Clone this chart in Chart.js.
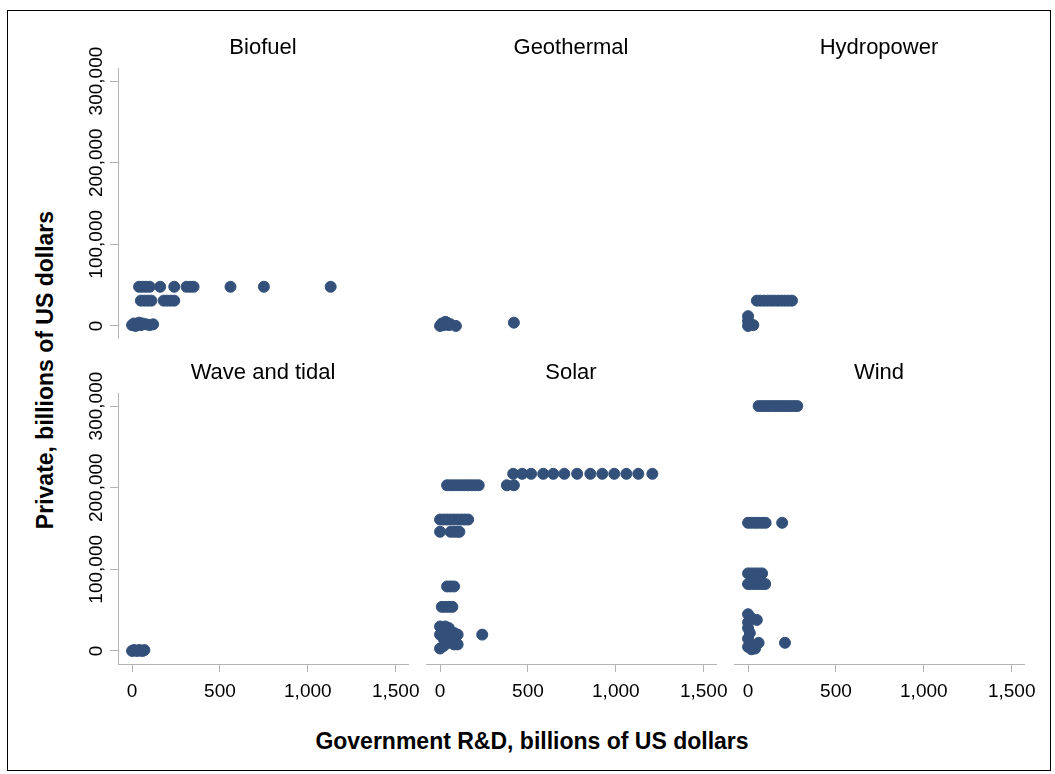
<!DOCTYPE html>
<html>
<head>
<meta charset="utf-8">
<script src="https://cdn.jsdelivr.net/npm/chart.js@4/dist/chart.umd.min.js"></script>
<style>
  body { margin: 0; background: #fff; font-family: "Liberation Sans", Arial, sans-serif; }
  #frame { position: absolute; left: 7px; top: 10px; width: 1042px; height: 759px; border: 1px solid #000; }
  canvas { position: absolute; }
  .ptitle { position: absolute; font-size: 22px; text-align: center; width: 290px; }
  .atitle { position: absolute; font-size: 23px; font-weight: bold; white-space: nowrap; }
</style>
</head>
<body>
<div id="frame"></div>
<div class="atitle" style="left:45px;top:370px;transform:translate(-50%,-50%) rotate(-90deg);">Private, billions of US dollars</div>
<div class="atitle" style="left:532px;top:741px;transform:translate(-50%,-50%);">Government R&amp;D, billions of US dollars</div>
<script>
// panel names, in reading order
const panels = ['Biofuel', 'Geothermal', 'Hydropower', 'Wave and tidal', 'Solar', 'Wind'];
const xTicks = [0, 500, 1000, 1500];
const yTicks = [0, 100000, 200000, 300000];

// government R&D (x) and private (y) per panel
const biofuelX = [40, 60, 80, 100, 160, 240, 310, 330, 350, 560, 750, 1130,
  50, 70, 90, 110, 180, 200, 220, 240,
  0, 10, 20, 30, 40, 50, 60, 80, 100, 120];
const biofuelY = [48000, 48000, 48000, 48000, 48000, 48000, 48000, 48000, 48000, 48000, 48000, 48000,
  31000, 31000, 31000, 31000, 31000, 31000, 31000, 31000,
  1000, 3000, 0, 2000, 4000, 1000, 3000, 2000, 1000, 2000];

const geoX = [0, 10, 20, 40, 60, 90, 30, 50, 420];
const geoY = [0, 3000, 1000, 4000, 2000, 0, 5000, 1000, 4000];

const hydroX = [50, 70, 90, 110, 130, 150, 170, 190, 210, 230, 250, 0, 0, 0, 30];
const hydroY = [31000, 31000, 31000, 31000, 31000, 31000, 31000, 31000, 31000, 31000, 31000, 12000, 6000, 0, 1000];

const waveX = [0, 10, 20, 30, 40, 50, 60, 70];
const waveY = [0, 1000, 500, 0, 1000, 500, 0, 1000];

const solarX = [416, 467, 518, 587, 644, 707, 780, 855, 923, 991, 1060, 1128, 1208,
  40, 60, 80, 100, 120, 140, 160, 180, 200, 220, 380, 420,
  0, 20, 40, 60, 80, 100, 120, 140, 160,
  0, 60, 80, 100, 110,
  40, 60, 80,
  10, 30, 50, 70,
  0, 10, 30, 50, 70, 90, 100, 0, 20, 40, 60, 80, 100, 0, 20, 60, 40, 80, 240];
const solarY = [217000, 217000, 217000, 217000, 217000, 217000, 217000, 217000, 217000, 217000, 217000, 217000, 217000,
  203000, 203000, 203000, 203000, 203000, 203000, 203000, 203000, 203000, 203000, 203000, 203000,
  161000, 161000, 161000, 161000, 161000, 161000, 161000, 161000, 161000,
  146000, 146000, 146000, 146000, 146000,
  79000, 79000, 79000,
  54000, 54000, 54000, 54000,
  30000, 26000, 30000, 28000, 20000, 18000, 20000, 20000, 15000, 10000, 12000, 8000, 8000, 3000, 6000, 10000, 25000, 22000, 20000];

const windX = [60, 80, 100, 120, 140, 160, 180, 200, 220, 240, 260, 280,
  0, 20, 40, 60, 80, 100, 194,
  0, 20, 40, 60, 80,
  0, 20, 40, 60, 80, 97,
  0, 20, 50, 0, 0, 10, 0, 10, 0, 20, 40, 60, 210];
const windY = [300000, 300000, 300000, 300000, 300000, 300000, 300000, 300000, 300000, 300000, 300000, 300000,
  157000, 157000, 157000, 157000, 157000, 157000, 157000,
  95000, 95000, 95000, 95000, 95000,
  82000, 82000, 82000, 82000, 82000, 82000,
  45000, 40000, 38000, 35000, 28000, 22000, 15000, 10000, 5000, 2000, 3000, 10000, 10000];

const allX = [biofuelX, geoX, hydroX, waveX, solarX, windX];
const allY = [biofuelY, geoY, hydroY, waveY, solarY, windY];

const grey = '#b4b4b4';
const colLeft = [118, 426, 734];
const rowTop = [68, 393];
const areaW = 290, areaH = 271, yAxisW = 98, xAxisH = 60;
const padT = 40, padR = 30;

const yLabels = {
  id: 'yLabels',
  afterDraw(chart) {
    if (!chart.options.plugins.yLabels.show) return;
    const ctx = chart.ctx, y = chart.scales.y;
    ctx.save();
    ctx.font = '19px "Liberation Sans", Arial';
    ctx.fillStyle = '#000';
    ctx.textAlign = 'center';
    ctx.textBaseline = 'middle';
    yTicks.forEach(v => {
      ctx.save();
      ctx.translate(77, y.getPixelForValue(v));
      ctx.rotate(-Math.PI / 2);
      ctx.fillText(v.toLocaleString('en-US'), 0, 0);
      ctx.restore();
    });
    ctx.restore();
  }
};

panels.forEach((name, i) => {
  const col = i % 3, row = Math.floor(i / 3);
  const hasY = col === 0, hasX = row === 1;
  const cv = document.createElement('canvas');
  const left = colLeft[col] - (hasY ? yAxisW : 0);
  const w = areaW + (hasY ? yAxisW : 0) + padR;
  const h = padT + areaH + (hasX ? xAxisH : 0);
  cv.width = w;
  cv.height = h;
  cv.style.left = left + 'px';
  cv.style.top = (rowTop[row] - padT) + 'px';
  document.body.appendChild(cv);

  const t = document.createElement('div');
  t.className = 'ptitle';
  t.textContent = name;
  t.style.left = colLeft[col] + 'px';
  t.style.top = (rowTop[row] - 34) + 'px';
  document.body.appendChild(t);

  const pts = allX[i].map((x, k) => ({ x: x, y: allY[i][k] }));

  new Chart(cv, {
    type: 'scatter',
    data: { datasets: [{ data: pts, backgroundColor: '#33507a', borderColor: '#33507a', pointRadius: 5.5, pointHoverRadius: 5.5 }] },
    options: {
      responsive: false,
      animation: false,
      events: [],
      layout: { padding: { top: padT, right: padR, left: 0, bottom: 0 }, autoPadding: false },
      plugins: { legend: { display: false }, tooltip: { enabled: false }, yLabels: { show: hasY } },
      scales: {
        x: {
          display: hasX,
          min: -80, max: 1570,
          afterBuildTicks: s => { s.ticks = xTicks.map(v => ({ value: v })); },
          afterFit: s => { if (hasX) s.height = xAxisH; },
          grid: { drawOnChartArea: false, drawTicks: true, tickLength: 8, color: grey },
          border: { color: grey },
          ticks: { color: '#000', font: { size: 19, family: '"Liberation Sans", Arial' }, padding: 8,
            maxRotation: 0, callback: v => v.toLocaleString('en-US') }
        },
        y: {
          display: hasY,
          min: -16000, max: 316000,
          afterBuildTicks: s => { s.ticks = yTicks.map(v => ({ value: v })); },
          afterFit: s => { if (hasY) s.width = yAxisW; },
          grid: { drawOnChartArea: false, drawTicks: true, tickLength: 8, color: grey },
          border: { color: grey },
          ticks: { display: false }
        }
      }
    },
    plugins: [yLabels]
  });
});
</script>
</body>
</html>
